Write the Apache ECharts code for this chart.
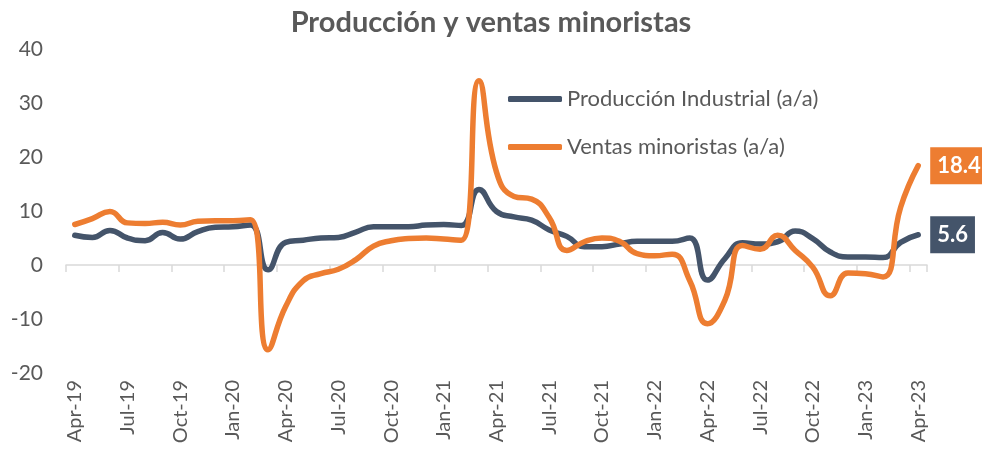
<!DOCTYPE html>
<html>
<head>
<meta charset="utf-8">
<script src="https://cdn.jsdelivr.net/npm/echarts@6/dist/echarts.min.js"></script>
<style>
  html, body { margin: 0; padding: 0; background: #fff; }
  #chart { width: 982px; height: 454px; }
</style>
</head>
<body>
<div id="chart"></div>
<script>
// meses Apr-19 .. Apr-23
var months = [
  'Apr-19','May-19','Jun-19','Jul-19','Aug-19','Sep-19','Oct-19','Nov-19','Dec-19',
  'Jan-20','Feb-20','Mar-20','Apr-20','May-20','Jun-20','Jul-20','Aug-20','Sep-20','Oct-20','Nov-20','Dec-20',
  'Jan-21','Feb-21','Mar-21','Apr-21','May-21','Jun-21','Jul-21','Aug-21','Sep-21','Oct-21','Nov-21','Dec-21',
  'Jan-22','Feb-22','Mar-22','Apr-22','May-22','Jun-22','Jul-22','Aug-22','Sep-22','Oct-22','Nov-22','Dec-22',
  'Jan-23','Feb-23','Mar-23','Apr-23'
];

var produccion = [
  5.5, 5.1, 6.4, 5.0, 4.5, 6.0, 4.8, 6.2, 7.0,
  7.1, 7.4, -0.9, 4.2, 4.6, 5.0, 5.1, 6.1, 7.1, 7.1, 7.1, 7.4,
  7.5, 7.3, 14.0, 9.9, 8.9, 8.3, 6.5, 5.3, 3.4, 3.4, 3.9, 4.4,
  4.4, 4.4, 5.0, -2.8, 1.2, 4.1, 3.9, 4.3, 6.3, 4.9, 2.4, 1.5,
  1.5, 1.4, 4.2, 5.6
];

var ventas = [
  7.5, 8.6, 9.9, 7.8, 7.7, 7.9, 7.4, 8.1, 8.2,
  8.2, 8.4, -15.7, -7.7, -2.9, -1.6, -0.8, 1.0, 3.5, 4.5, 4.9, 5.0,
  4.8, 4.6, 34.1, 17.2, 12.7, 12.2, 8.8, 2.7, 4.3, 5.0, 4.4, 2.1,
  1.7, 2.0, -2.9, -10.9, -6.5, 3.6, 2.9, 5.5, 2.7, -0.4, -5.7, -1.5,
  -1.6, -2.2, 10.7, 18.4
];

var yMin = -20, yMax = 40, yStep = 10;

var FONT = 'Lato, "Noto Sans", sans-serif';
var GRAY = '#595959';
var AZUL = '#44546A';
var NARANJA = '#ED7D31';

var chart = echarts.init(document.getElementById('chart'));

function serie (name, data, color) {
  return {
    name: name,
    type: 'line',
    data: data,
    smooth: 0.5,
    symbol: 'none',
    lineStyle: { color: color, width: 5.5, cap: 'round', join: 'round' },
    itemStyle: { color: color },
    endLabel: {
      show: true,
      formatter: function (p) { return p.value.toFixed(1) },
      backgroundColor: color,
      color: '#fff',
      fontFamily: FONT,
      fontWeight: 'bold',
      fontSize: 22,
      padding: [8, 7, 7, 7],
      distance: 12
    }
  }
}

var option = {
  animation: false,
  backgroundColor: '#fff',
  title: {
    text: 'Producción y ventas minoristas',
    left: 'center',
    top: 3,
    textStyle: { fontFamily: FONT, fontSize: 29, fontWeight: 'bold', color: GRAY }
  },
  legend: {
    orient: 'vertical',
    left: 503,
    top: 83,
    icon: 'roundRect',
    itemWidth: 54,
    itemHeight: 6,
    itemGap: 26,
    textStyle: { fontFamily: FONT, fontSize: 22, lineHeight: 22, color: GRAY },
    data: ['Producción Industrial (a/a)', 'Ventas minoristas (a/a)']
  },
  grid: { left: 66, right: 55, top: 49, bottom: 81 },
  xAxis: [
    {
      type: 'category',
      data: months,
      boundaryGap: true,
      position: 'bottom',
      axisLine: { show: false, onZero: false },
      axisTick: { show: false },
      axisLabel: {
        interval: 2,
        rotate: 90,
        margin: 7,
        fontFamily: FONT,
        fontSize: 20,
        color: GRAY
      }
    },
    {
      type: 'category',
      data: months,
      boundaryGap: true,
      position: 'bottom',
      axisLine: { show: true, onZero: true, lineStyle: { color: '#D9D9D9', width: 1.5 } },
      axisTick: { show: true, interval: 2, length: 7, lineStyle: { color: '#D9D9D9', width: 1.5 } },
      axisLabel: { show: false }
    }
  ],
  yAxis: {
    type: 'value',
    min: yMin,
    max: yMax,
    interval: yStep,
    axisLine: { show: false },
    axisTick: { show: false },
    splitLine: { show: false },
    axisLabel: { margin: 23, fontFamily: FONT, fontSize: 21, color: GRAY }
  },
  series: [
    serie('Producción Industrial (a/a)', produccion, AZUL),
    serie('Ventas minoristas (a/a)', ventas, NARANJA)
  ]
};

chart.setOption(option);
</script>
</body>
</html>
